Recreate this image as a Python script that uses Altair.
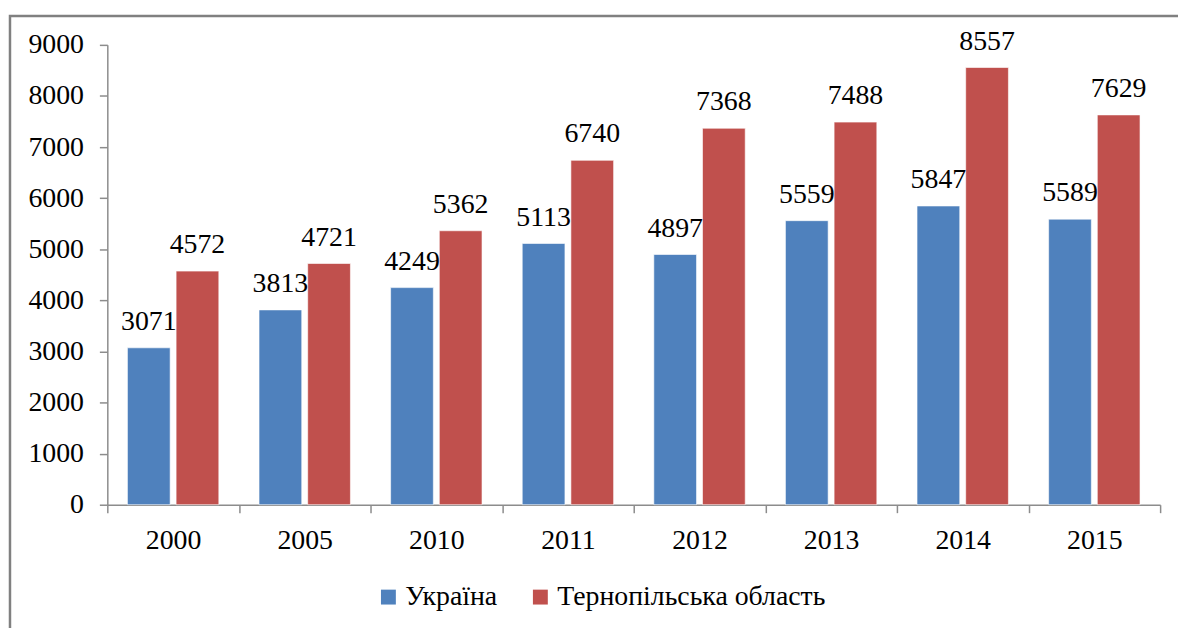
import altair as alt
import pandas as pd

years = ["2000", "2005", "2010", "2011", "2012", "2013", "2014", "2015"]
ukraine = [3071, 3813, 4249, 5113, 4897, 5559, 5847, 5589]
ternopil = [4572, 4721, 5362, 6740, 7368, 7488, 8557, 7629]
series = ["Україна", "Тернопільська область"]
colors = ["#4F81BD", "#C0504D"]
y_ticks = [0, 1000, 2000, 3000, 4000, 5000, 6000, 7000, 8000, 9000]

rows = []
for i, y in enumerate(years):
    rows.append({"year": y, "series": series[0], "value": ukraine[i]})
    rows.append({"year": y, "series": series[1], "value": ternopil[i]})
df = pd.DataFrame(rows)

FONT = "'Times New Roman', 'Liberation Serif', serif"
FS = 28

x_enc = alt.X("year:N", sort=years, title=None,
              scale=alt.Scale(paddingInner=0, paddingOuter=0),
              axis=alt.Axis(labelAngle=0, tickBand="extent", tickSize=8,
                            labelPadding=14, labelFont=FONT, labelFontSize=FS,
                            labelColor="#000000", domainColor="#8c8c8c",
                            tickColor="#8c8c8c", domainWidth=1.5, tickWidth=1.5))
xoff = alt.XOffset("series:N", sort=series,
                   scale=alt.Scale(paddingInner=0.1224, paddingOuter=0.413))
y_enc = alt.Y("value:Q", title=None,
              scale=alt.Scale(domain=[0, 9000], nice=False),
              axis=alt.Axis(values=y_ticks, format="d", grid=False, tickSize=8,
                            labelPadding=16, labelFont=FONT, labelFontSize=FS,
                            labelColor="#000000", domainColor="#8c8c8c",
                            tickColor="#8c8c8c", domainWidth=1.5, tickWidth=1.5))

bars = alt.Chart(df).mark_bar(stroke="#ffffff", strokeWidth=1, strokeOpacity=0.6).encode(
    x=x_enc,
    xOffset=xoff,
    y=y_enc,
    color=alt.Color("series:N", sort=series,
                    scale=alt.Scale(domain=series, range=colors),
                    legend=alt.Legend(title=None, orient="none", direction="horizontal",
                                      legendX=269, legendY=542,
                                      symbolType="square", symbolSize=225,
                                      symbolStrokeWidth=0, labelFont=FONT,
                                      labelFontSize=FS, labelColor="#000000",
                                      labelLimit=0,
                                      labelOffset=3, columnPadding=29, padding=0)),
)

labels = alt.Chart(df).mark_text(font=FONT, fontSize=FS, color="#000000",
                                 baseline="alphabetic", dy=-18).encode(
    x=alt.X("year:N", sort=years),
    xOffset=alt.XOffset("series:N", sort=series),
    y="value:Q",
    text=alt.Text("value:Q", format="d"),
)

frame = alt.Chart(pd.DataFrame({"a": [0]})).mark_rect(
    fill=None, stroke="#808080", strokeWidth=2.5
).encode(
    x=alt.value(-98), x2=alt.value(1200), y=alt.value(-29), y2=alt.value(700)
)

chart = alt.layer(frame, bars, labels).properties(
    width=1060, height=463,
    autosize=alt.AutoSizeParams(type="none"),
    padding={"left": 100, "top": 35, "right": 18, "bottom": 122},
).configure_view(stroke=None)

chart.save("out.html", embed_options={"renderer": "svg", "actions": False})
